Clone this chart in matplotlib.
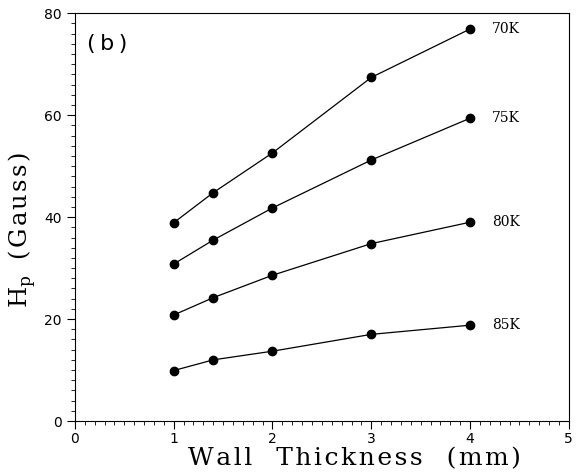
import matplotlib.pyplot as plt
from matplotlib.ticker import MultipleLocator

# wall thickness (mm) and penetration field for each temperature
thickness = [1, 1.4, 2, 3, 4]
hp_70K = [38.9, 44.8, 52.6, 67.4, 76.9]
hp_75K = [30.8, 35.5, 41.8, 51.2, 59.4]
hp_80K = [20.8, 24.2, 28.6, 34.8, 39.0]
hp_85K = [9.9, 12.0, 13.7, 17.0, 18.8]
temps = ["70K", "75K", "80K", "85K"]


def spaced(s):
    # wide letter spacing like the original plotter font
    return "\u200a".join(s)


fig = plt.figure(figsize=(5.81, 4.72), dpi=100)
ax = fig.add_axes([0.129, 0.108, 0.850, 0.864])

for hp, name in zip([hp_70K, hp_75K, hp_80K, hp_85K], temps):
    ax.plot(thickness, hp, color='black', linewidth=0.9, marker='o', markersize=6)
    ax.text(thickness[-1] + 0.22, hp[-1], name, fontsize=10, family='DejaVu Serif',
            va='center', ha='left')

ax.set_xlim(0, 5)
ax.set_ylim(0, 80)
ax.xaxis.set_major_locator(MultipleLocator(1))
ax.xaxis.set_minor_locator(MultipleLocator(0.1))
ax.yaxis.set_major_locator(MultipleLocator(20))
ax.yaxis.set_minor_locator(MultipleLocator(2))
ax.tick_params(which='both', direction='out', top=False, right=False, labelsize=10)
ax.tick_params(which='major', length=6, width=0.8)
ax.tick_params(which='minor', length=3, width=0.6)
ax.tick_params(axis='x', which='major', pad=2)
for s in ax.spines.values():
    s.set_linewidth(0.8)

ax.set_xlabel(spaced("Wall") + "   " + spaced("Thickness") + "   " + spaced("(mm)"),
              fontsize=18, family='DejaVu Serif')
ax.xaxis.set_label_coords(0.565, -0.064, transform=ax.transAxes)
ax.set_ylabel(r"H$_\mathregular{p}$" + "  " + spaced("(Gauss)"),
              fontsize=17.5, family='DejaVu Serif')
ax.yaxis.set_label_coords(-0.075, 0.468, transform=ax.transAxes)
ax.text(0.025, 0.925, "(\u2009b\u2009)", transform=ax.transAxes, fontsize=16, va='center')

fig.savefig("out.png", dpi=100)
